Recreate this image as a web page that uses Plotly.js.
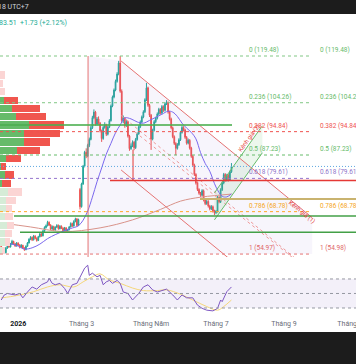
<!DOCTYPE html>
<html><head><meta charset="utf-8">
<script src="https://cdn.plot.ly/plotly-3.0.1.min.js"></script>
<style>html,body{margin:0;padding:0;background:#fff;overflow:hidden}#chart{width:356px;height:364px}</style>
</head><body><div id="chart"></div>
<script>
// ---------- DATA ----------
const firstBarDate = [2025, 11, 18]; // 18 Dec 2025, daily bars on weekdays
const opens = [57.5,56.8,56.0,55.4,56.9,58.0,57.3,58.2,59.1,58.3,57.6,58.5,57.9,57.2,57.8,56.9,56.4,57.5,58.6,59.8,
60.4,59.6,60.8,60.1,59.4,60.6,61.5,60.9,62.4,63.6,64.2,65.3,64.4,63.1,63.9,62.8,63.7,64.3,63.2,64.0,
63.4,62.6,63.5,62.3,62.9,63.8,64.9,64.1,65.6,66.4,64.3,76.0,70.4,77.8,83.6,88.1,86.9,90.4,92.3,96.1,
99.4,101.2,97.3,99.0,97.6,95.1,92.6,96.2,97.1,94.0,96.3,98.4,103.2,106.1,108.4,111.2,113.6,117.2,108.0,98.5,
99.2,96.8,98.1,93.4,89.3,90.2,91.4,89.6,92.3,94.1,96.4,98.0,99.6,101.3,105.2,109.1,103.4,100.2,92.4,95.3,
98.1,99.2,100.6,102.1,100.9,103.0,101.8,103.9,104.3,101.2,99.0,96.1,93.2,91.0,89.4,90.6,92.2,94.6,96.2,95.4,
93.0,91.1,92.0,89.5,86.8,84.0,80.9,78.1,76.0,74.8,74.1,75.6,72.6,71.4,72.1,70.6,69.7,70.4,69.0,68.5,
68.8,73.4,72.0,75.9,78.1,80.9,79.0,80.6,79.1,81.78];
const highs = [57.9,57.2,56.4,57.3,58.4,58.3,58.6,59.6,59.3,58.6,58.9,58.8,58.2,58.2,58.0,57.2,57.8,58.9,60.1,60.8,
60.7,61.2,61.1,60.4,60.9,61.9,61.8,62.8,64.0,64.6,65.8,65.6,64.7,64.3,64.2,64.0,64.7,64.6,64.4,64.3,
63.7,63.8,63.7,63.2,64.1,65.3,65.2,66.0,66.8,66.7,66.5,76.5,78.2,84.0,88.6,89.4,90.9,92.9,96.7,100.0,
102.1,101.6,99.6,99.8,98.0,95.5,96.7,97.9,97.4,96.8,98.9,103.7,106.6,108.9,111.8,114.2,117.9,119.48,108.6,100.1,
99.6,98.7,98.4,93.8,91.0,92.0,91.8,92.8,94.6,96.9,98.5,100.1,101.8,105.7,110.7,109.5,103.9,100.6,95.8,98.6,
99.7,101.1,102.6,102.5,103.5,103.4,104.4,105.1,104.7,101.6,99.4,96.5,93.6,91.4,91.1,92.7,95.1,96.8,96.6,95.8,
93.4,92.6,92.4,89.9,87.2,84.4,81.3,78.5,76.4,75.2,76.1,76.0,73.0,72.6,72.5,71.0,70.9,70.8,69.4,69.3,
73.9,73.8,76.4,78.6,81.4,81.3,81.1,81.0,82.2,84.6];
const lows = [56.3,55.6,54.97,55.2,56.7,57.0,57.1,58.0,58.0,57.3,57.4,57.6,56.8,57.0,56.6,56.0,56.2,57.3,58.4,59.5,
59.2,59.4,59.8,59.0,59.2,60.4,60.6,60.7,62.2,63.3,64.0,64.1,62.8,62.9,62.5,62.6,63.5,62.9,63.0,63.1,
62.3,62.4,62.0,62.1,62.7,63.6,63.8,63.9,65.3,63.9,64.1,69.5,70.1,77.5,83.2,86.2,86.5,89.8,92.0,95.7,
98.9,96.8,96.9,97.1,94.6,91.5,92.2,95.8,93.4,93.6,96.0,98.1,102.8,105.7,108.0,110.8,113.2,107.5,97.8,97.6,
96.1,96.4,92.9,88.6,88.9,89.8,88.8,89.2,91.9,93.8,96.0,97.6,99.2,100.9,104.8,102.9,99.6,88.9,92.0,94.9,
97.6,98.8,100.2,100.4,100.5,101.3,101.4,103.5,100.7,98.5,95.6,92.7,90.5,87.2,89.0,90.2,91.8,94.2,94.9,92.5,
90.6,90.7,89.0,86.3,83.5,80.4,77.6,75.5,74.3,73.6,73.8,72.1,70.9,71.0,70.1,69.2,69.3,68.5,67.7,68.0,
68.5,71.5,71.6,75.5,77.7,78.5,78.6,78.6,78.8,81.4];
const closes = [56.8,56.0,55.4,56.9,58.0,57.3,58.2,59.1,58.3,57.6,58.5,57.9,57.2,57.8,56.9,56.4,57.5,58.6,59.8,60.4,
59.6,60.8,60.1,59.4,60.6,61.5,60.9,62.4,63.6,64.2,65.3,64.4,63.1,63.9,62.8,63.7,64.3,63.2,64.0,63.4,
62.6,63.5,62.3,62.9,63.8,64.9,64.1,65.6,66.4,64.3,66.2,70.4,77.8,83.6,88.1,86.9,90.4,92.3,96.1,99.4,
101.2,97.3,99.0,97.6,95.1,92.6,96.2,97.1,94.0,96.3,98.4,103.2,106.1,108.4,111.2,113.6,117.2,108.0,98.5,99.2,
96.8,98.1,93.4,89.3,90.2,91.4,89.6,92.3,94.1,96.4,98.0,99.6,101.3,105.2,109.1,103.4,100.2,92.4,95.3,98.1,
99.2,100.6,102.1,100.9,103.0,101.8,103.9,104.3,101.2,99.0,96.1,93.2,91.0,89.4,90.6,92.2,94.6,96.2,95.4,93.0,
91.1,92.0,89.5,86.8,84.0,80.9,78.1,76.0,74.8,74.1,75.6,72.6,71.4,72.1,70.6,69.7,70.4,69.0,68.5,68.8,
73.4,72.0,75.9,78.1,80.9,79.0,80.6,79.1,81.78,83.51];

// moving averages (bar index -> value)
const ma20Idx = [0,5,10,15,20,25,30,35,40,45,50,53,56,59,62,65,68,71,74,77,80,84,88,92,96,100,104,108,111,114,117,120,123,126,129,132,135,139,143,146,149];
const ma20Val = [59.5,58.4,57.8,56.6,57.0,58.2,60.0,61.3,62.4,63.3,64.2,66.0,69.0,73.5,78.5,83.0,87.5,91.0,94.5,97.0,99.3,99.0,98.0,97.6,98.5,99.5,100.5,101.5,101.2,99.8,97.6,96.0,94.6,92.5,88.0,84.5,81.9,76.8,73.8,73.6,74.6];
const ma200Idx = [0,19,40,64,85,103,116,129,138,149];
const ma200Val = [65.1,63.8,62.3,63.5,66.1,69.5,72.2,73.5,74.0,74.5];

// RSI and its moving average
const rsiIdx = [0,2,4,6,9,12,14,17,20,23,26,30,31,33,35,38,41,43,46,49,51,53,54,56,57,59,62,64,66,68,70,72,75,77,79,82,85,89,92,95,98,101,105,107,111,114,117,120,124,127,130,133,137,140,142,143,146,148,149];
const rsiVal = [41,48,50,49,48,50,44,52,59,56,62,66,71,64,62,64,57,50,62,64,73,80,85,89,75,78,73,75,62,66,68,64,68,64,52,50,41,50,59,62,55,52,55,56,48,41,48,44,44,34,29.5,27,26,29.5,41,38.7,52.5,56,59];
const rsiMaIdx = [0,6,12,21,30,38,47,53,59,64,70,77,85,92,101,107,116,124,133,140,144,149];
const rsiMaVal = [44,45.6,48,52.5,59,62,59,66,73,77,68.6,64,57.5,54,54,55,49,41,32,27,32,41];

// volume profile (price row -> up / down volume)
const vpPrice = [113.3,110.6,107.9,105.1,102.4,99.7,97.0,94.3,91.5,88.8,86.1,83.4,80.7,77.9,75.2,72.5,69.8,67.1,64.3,61.6,58.9,56.2];
const vpUp    = [0,0,0,4,12,16,29,24,24,17,6,1,5,2,8,6,6,5,7,5,5,2];
const vpDown  = [5,3,5,14,28,30,35,36,26,23,15,5,9,9,14,10,6,8,7,7,5,3];
const vpInValueArea = [0,0,0,1,1,1,1,1,1,1,1,1,1,1,0,0,0,0,0,0,0,0];

// Fibonacci retracement
const fibLevels = ['0','0.236','0.382','0.5','0.618','0.786','1'];
const fibPrices = [119.48,104.26,94.84,87.23,79.61,68.78,54.97];
const fibPrices2 = [119.48,104.26,94.84,87.23,79.61,68.78,54.98];

// horizontal lines drawn on the chart
const hLinePrices = [97.0,78.9,72.9,67.4,62.1];

// drawing anchors: [bar index, price]
const vLine = [[56.2,54.0],[56.2,119.48]];
const ch1Upper = [[77.6,117.85],[201.2,66.84]];
const ch1Lower = [[77.6,82.35],[201.2,31.34]];
const ch1Mid = [[77.6,100.1],[201.2,49.1]];
const extraDash = [[86.6,94.72],[188.9,53.68]];
const shadeZone = [[56.2,119.48],[77.6,117.85],[201.2,66.84],[201.2,54.97],[56.2,54.97]];
const ch2Upper = [[138,74.9],[169,96.76]];
const ch2Lower = [[138,66.1],[169,87.96]];
const redTick = [[85.3,78.9],[85.3,89.0]];

const tickDates = ['2026-01-02','2026-03-02','2026-05-04','2026-07-01','2026-09-01','2026-11-02'];
const tickLabels = ['<b><span style="color:#131722">2026</span></b>','Tháng 3','Tháng Năm','Tháng 7','Tháng 9','Tháng 11'];

// ---------- HELPERS ----------
function kDate(k){
  const base = Math.floor(k), frac = k - base;
  const d = new Date(Date.UTC(firstBarDate[0], firstBarDate[1], firstBarDate[2]));
  let n = 0;
  while (n < base){ d.setUTCDate(d.getUTCDate()+1); const w=d.getUTCDay(); if (w!==0 && w!==6) n++; }
  d.setTime(d.getTime() + frac*86400000);
  return d.toISOString().replace('T',' ').slice(0,19);
}
const dates = closes.map((_,i)=>kDate(i).slice(0,10));
const W = 356;
const px = x => x / W;
const FONT = 'Roboto, "Open Sans", sans-serif';

// ---------- TRACES ----------
const pick = (inVA, solid, light) => (inVA ? solid : light);
const upColors = vpInValueArea.map(v => pick(v, '#66bb6a', '#d6ecd7'));
const downColors = vpInValueArea.map(v => pick(v, '#f0564e', '#fbd5d4'));
const traces = [];
traces.push({type:'bar', orientation:'h', x:vpUp, y:vpPrice, xaxis:'x3', yaxis:'y', width:2.35,
  marker:{color:upColors, line:{width:0}}, hoverinfo:'skip'});
traces.push({type:'bar', orientation:'h', x:vpDown, y:vpPrice, xaxis:'x3', yaxis:'y', width:2.35,
  marker:{color:downColors, line:{width:0}}, hoverinfo:'skip'});

function lineTrace(pts, color, width, dash, extra){
  return Object.assign({type:'scatter', mode:'lines', x:pts.map(p=>kDate(p[0])), y:pts.map(p=>p[1]),
    xaxis:'x', yaxis:'y', line:{color:color, width:width, dash:dash||'solid'}, hoverinfo:'skip'}, extra||{});
}
traces.push(lineTrace(shadeZone.concat([shadeZone[0]]), 'rgba(0,0,0,0)', 0, 'solid', {fill:'toself', fillcolor:'rgba(140,120,210,0.07)'}));
traces.push(lineTrace([ch2Upper[0],ch2Upper[1],ch2Lower[1],ch2Lower[0],ch2Upper[0]], 'rgba(0,0,0,0)', 0, 'solid', {fill:'toself', fillcolor:'rgba(102,187,106,0.12)'}));

traces.push({type:'scatter', mode:'lines', x:ma200Idx.map(i=>dates[i]), y:ma200Val, xaxis:'x', yaxis:'y',
  line:{color:'#d9938a', width:1, shape:'spline'}, hoverinfo:'skip'});
traces.push({type:'candlestick', x:dates, open:opens, high:highs, low:lows, close:closes, xaxis:'x', yaxis:'y',
  increasing:{line:{color:'#26a69a', width:1}, fillcolor:'#26a69a'},
  decreasing:{line:{color:'#ef5350', width:1}, fillcolor:'#ef5350'}, whiskerwidth:0, hoverinfo:'skip'});
traces.push({type:'scatter', mode:'lines', x:ma20Idx.map(i=>dates[i]), y:ma20Val, xaxis:'x', yaxis:'y',
  line:{color:'#7b68ee', width:1, shape:'spline'}, hoverinfo:'skip'});

traces.push(lineTrace(vLine, '#e57373', 1));
traces.push(lineTrace(ch1Upper, '#e57373', 1));
traces.push(lineTrace(ch1Lower, '#e57373', 1));
traces.push(lineTrace(ch1Mid, '#ef9a9a', 1, '3px,3px'));
traces.push(lineTrace(extraDash, '#ef9a9a', 1, '3px,3px'));
traces.push(lineTrace(ch2Upper, '#66bb6a', 1));
traces.push(lineTrace(ch2Lower, '#66bb6a', 1));
traces.push(lineTrace(redTick, '#e53935', 1));

traces.push({type:'scatter', mode:'lines', x:rsiMaIdx.map(i=>dates[i]), y:rsiMaVal, xaxis:'x2', yaxis:'y2',
  line:{color:'#f5d77a', width:1, shape:'spline'}, hoverinfo:'skip'});
traces.push({type:'scatter', mode:'lines', x:rsiIdx.map(i=>dates[i]), y:rsiVal, xaxis:'x2', yaxis:'y2',
  line:{color:'#7e57c2', width:1}, hoverinfo:'skip'});

// ---------- SHAPES ----------
const shapes = [];
const fibLine = ['#81c784','#81c784','#ef5350','#66bb6a','#9575cd','#ffa726','#e57373'];
fibPrices.forEach((p,i)=>shapes.push({type:'line', xref:'paper', yref:'y', x0:0, x1:px(312), y0:p, y1:p,
  line:{color:fibLine[i], width:1, dash:'3px,3px'}}));
const hStyle = [
  {x0:0, x1:px(232), color:'rgba(76,175,80,0.8)', width:2},
  {x0:px(110), x1:1, color:'#e53935', width:1.5},
  {x0:px(200), x1:1, color:'#c9b36f', width:2},
  {x0:px(14), x1:1, color:'#43a047', width:1.5},
  {x0:px(20), x1:1, color:'#43a047', width:1.5}];
hLinePrices.forEach((p,i)=>shapes.push({type:'line', xref:'paper', yref:'y', x0:hStyle[i].x0, x1:hStyle[i].x1, y0:p, y1:p,
  line:{color:hStyle[i].color, width:hStyle[i].width}}));
const lastClose = closes[closes.length-1];
shapes.push({type:'line', xref:'paper', yref:'y', x0:0, x1:1, y0:lastClose, y1:lastClose, line:{color:'#5fa8e0', width:1, dash:'1px,2px'}});
shapes.push({type:'rect', xref:'paper', yref:'y2', x0:0, x1:1, y0:30, y1:70, fillcolor:'rgba(126,87,194,0.09)', line:{width:0}, layer:'below'});
[70,50,30].forEach(v=>shapes.push({type:'line', xref:'paper', yref:'y2', x0:0, x1:1, y0:v, y1:v, line:{color:'#9598a1', width:1, dash:'3px,3px'}}));
shapes.push({type:'rect', xref:'paper', yref:'paper', x0:-0.02, x1:1.02, y0:(318-14)/318, y1:1.01, fillcolor:'#1c1c1c', line:{width:0}, layer:'above'});
shapes.push({type:'rect', xref:'paper', yref:'paper', x0:-0.02, x1:1.02, y0:(318-366)/318, y1:(318-332)/318, fillcolor:'#1c1c1c', line:{width:0}, layer:'above'});

// ---------- ANNOTATIONS ----------
const ann = [];
const fibText = ['#66bb6a','#66bb6a','#ef5350','#66bb6a','#8e74c9','#f5a623','#e06666'];
fibPrices.forEach((p,i)=>{
  ann.push({xref:'paper', yref:'y', x:px(247), y:p, xanchor:'left', yanchor:'bottom', showarrow:false,
    text:fibLevels[i]+' ('+p.toFixed(2)+')', font:{family:FONT, size:6.5, color:fibText[i]}});
  ann.push({xref:'paper', yref:'y', x:px(318), y:fibPrices2[i], xanchor:'left', yanchor:'bottom', showarrow:false,
    text:fibLevels[i]+' ('+fibPrices2[i].toFixed(2)+')', font:{family:FONT, size:6.5, color:fibText[i]}});
});
ann.push({xref:'x', yref:'y', x:kDate(194.7), y:68.67, text:'Kênh giá (1)', textangle:39, showarrow:false, font:{family:FONT, size:6, color:'#e53935'}});
ann.push({xref:'x', yref:'y', x:kDate(160.4), y:92.8, text:'Kênh giá (2)', textangle:-54, showarrow:false, font:{family:FONT, size:6, color:'#e53935'}});
ann.push({xref:'paper', yref:'paper', x:-4/W, y:(318-7)/318, xanchor:'left', yanchor:'middle', showarrow:false, text:'18 UTC+7', font:{family:FONT, size:7, color:'#d1d4dc'}});
const prev = closes[closes.length-2];
const chg = lastClose - prev;
ann.push({xref:'paper', yref:'paper', x:-3/W, y:(318-23)/318, xanchor:'left', yanchor:'middle', showarrow:false,
  text:lastClose.toFixed(2)+'&nbsp;&nbsp;+'+chg.toFixed(2)+' (+'+(chg/prev*100).toFixed(2)+'%)', font:{family:FONT, size:7, color:'#22ab94'}});

// ---------- LAYOUT ----------
const xr = ['2025-12-17 05:17', '2026-11-04 14:24'];
const layout = {
  width:356, height:364, margin:{l:0, r:0, t:0, b:46}, paper_bgcolor:'#ffffff', plot_bgcolor:'#ffffff',
  showlegend:false, barmode:'stack', font:{family:FONT},
  xaxis:{type:'date', range:xr, rangebreaks:[{bounds:['sat','mon']}], rangeslider:{visible:false}, anchor:'y',
    showticklabels:false, showgrid:false, zeroline:false, showline:false, ticks:''},
  xaxis2:{type:'date', range:xr, rangebreaks:[{bounds:['sat','mon']}], anchor:'y2', tickmode:'array', tickvals:tickDates, ticktext:tickLabels,
    ticklabeloverflow:'allow', tickfont:{family:FONT, size:7, color:'#6a6d78'}, showgrid:false, zeroline:false, showline:false, ticks:''},
  xaxis3:{overlaying:'x', anchor:'y', range:[0,W], visible:false},
  yaxis:{domain:[(318-257)/318, 1], range:[54.01,137.72], visible:false, showgrid:false, zeroline:false},
  yaxis2:{domain:[0,(318-257)/318], range:[16.2,100.3], visible:false, showgrid:false, zeroline:false},
  shapes:shapes, annotations:ann
};
Plotly.newPlot('chart', traces, layout, {staticPlot:true, displayModeBar:false});
</script></body></html>
